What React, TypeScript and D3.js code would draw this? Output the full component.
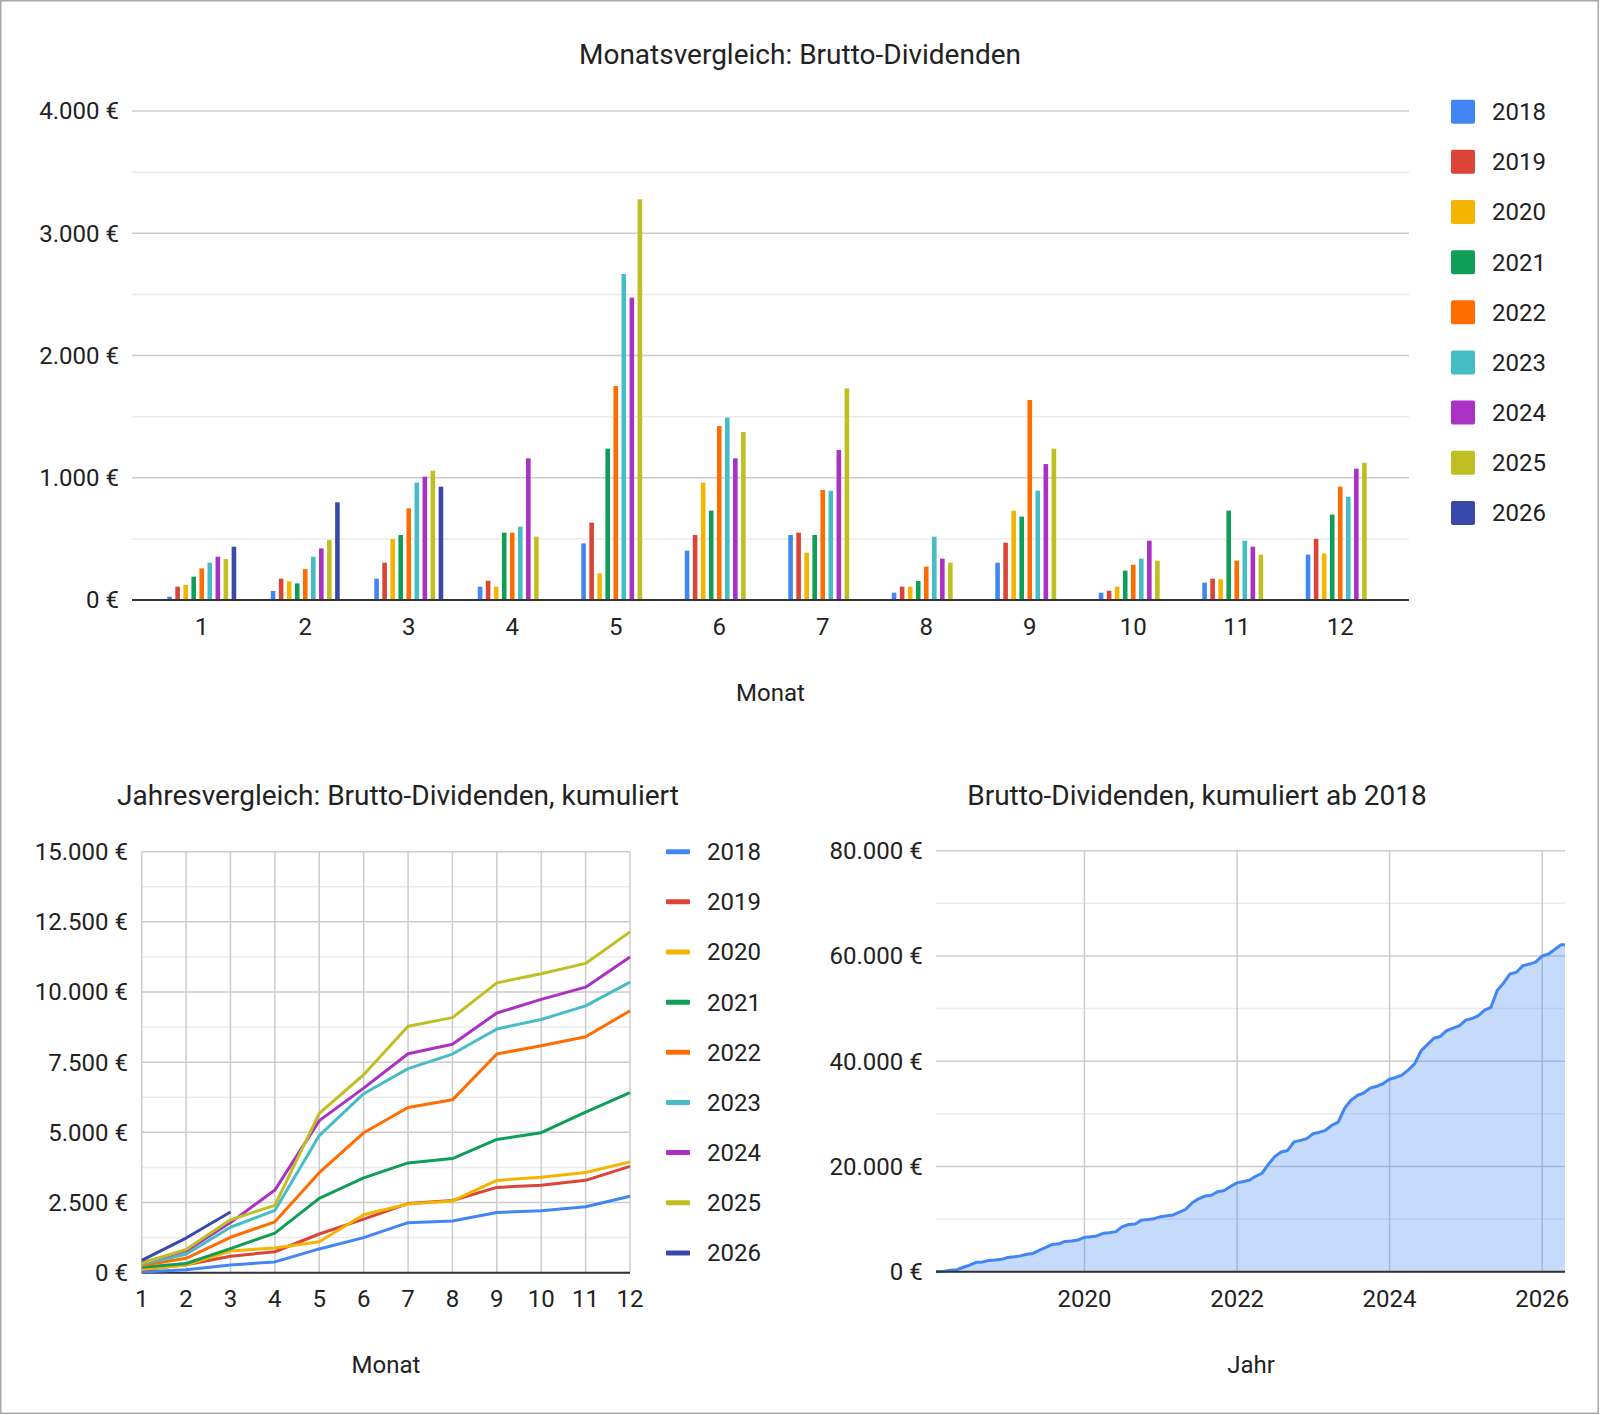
import React from "react";
import * as d3 from "d3";

// monthly gross dividends per year (EUR)
const MONTHS = [1, 2, 3, 4, 5, 6, 7, 8, 9, 10, 11, 12];
const YEARS = [2018, 2019, 2020, 2021, 2022, 2023, 2024, 2025, 2026];
const COLORS = [
  "#4285f4",
  "#db4437",
  "#f4b400",
  "#0f9d58",
  "#ff6d01",
  "#46bdc6",
  "#ab30c4",
  "#bfbf22",
  "#3949ab"
];

const D2018 = [27, 74, 174, 109, 463, 404, 532, 60, 305, 60, 142, 371];
const D2019 = [109, 174, 305, 158, 633, 532, 551, 109, 469, 76, 174, 500];
const D2020 = [123, 153, 499, 109, 218, 960, 387, 109, 731, 109, 170, 380];
const D2021 = [191, 136, 532, 551, 1238, 731, 532, 155, 682, 240, 731, 698];
const D2022 = [259, 253, 750, 551, 1750, 1423, 900, 273, 1636, 289, 322, 927];
const D2023 = [305, 354, 960, 600, 2667, 1492, 894, 518, 894, 338, 485, 845];
const D2024 = [354, 422, 1009, 1159, 2473, 1159, 1227, 338, 1112, 485, 436, 1074];
const D2025 = [335, 490, 1058, 518, 3278, 1374, 1731, 305, 1238, 322, 371, 1123];
const D2026 = [436, 799, 927];

const SERIES = [D2018, D2019, D2020, D2021, D2022, D2023, D2024, D2025, D2026];

const BAR_TICKS = [0, 1000, 2000, 3000, 4000];
const CUM_TICKS = [0, 2500, 5000, 7500, 10000, 12500, 15000];
const TOTAL_TICKS = [0, 20000, 40000, 60000, 80000];
const YEAR_TICKS = [2020, 2022, 2024, 2026];

const FIRST_PAYMENT = new Date(2018, 0, 20);
const AS_OF = new Date(2026, 3, 20);

const de = d3.formatLocale({
  decimal: ",",
  thousands: ".",
  grouping: [3],
  currency: ["", " €"]
});
const euro = de.format("$,.0f");

const FONT = "Roboto, 'Noto Sans', sans-serif";
const TXT = "#222";
const GRID = "#cccccc";
const MINOR = "#ebebeb";
const BASE = "#333";
const TITLE_SIZE = 28;

const Legend: React.FC<{ x: number; y: number; line?: boolean }> = ({ x, y, line }) => (
  <g>
    {YEARS.map((yr, i) => (
      <g key={yr} transform={`translate(${x}, ${y + i * 50.15})`}>
        {line ? (
          <rect x={0} y={-2.5} width={24} height={5} rx={1} fill={COLORS[i]} />
        ) : (
          <rect x={0} y={-12} width={24} height={24} rx={2} fill={COLORS[i]} />
        )}
        <text x={41} dy="0.35em" fontSize={24} fill={TXT}>
          {yr}
        </text>
      </g>
    ))}
  </g>
);

const MonthBars: React.FC = () => {
  const left = 132;
  const right = 1409;
  const x = d3.scaleBand<number>().domain(MONTHS).range([150, 1392]);
  const inner = d3
    .scaleBand<number>()
    .domain(YEARS)
    .range([-36.2, 36.2]);
  const y = d3.scaleLinear().domain([0, 4000]).range([600, 111]);
  const minor = d3.range(500, 4000, 1000);
  const bw = 4.6;

  return (
    <g>
      <text x={800} y={64} textAnchor="middle" fontSize={TITLE_SIZE} fill={TXT}>
        Monatsvergleich: Brutto-Dividenden
      </text>
      {minor.map(v => (
        <line key={v} x1={left} x2={right} y1={y(v)} y2={y(v)} stroke={MINOR} strokeWidth={1.5} />
      ))}
      {BAR_TICKS.map(v => (
        <g key={v}>
          {v > 0 && (
            <line x1={left} x2={right} y1={y(v)} y2={y(v)} stroke={GRID} strokeWidth={1.5} />
          )}
          <text x={119} y={y(v)} dy="0.35em" textAnchor="end" fontSize={24} fill={TXT}>
            {euro(v)}
          </text>
        </g>
      ))}
      {SERIES.map((vals, i) =>
        vals.map((v, m) => {
          const cx = x(MONTHS[m])! + x.bandwidth() / 2 + inner(YEARS[i])! + inner.bandwidth() / 2;
          return (
            <rect
              key={`${i}-${m}`}
              x={cx - bw / 2}
              y={y(v)}
              width={bw}
              height={y(0) - y(v)}
              fill={COLORS[i]}
            />
          );
        })
      )}
      <line x1={left} x2={right} y1={y(0)} y2={y(0)} stroke={BASE} strokeWidth={2} />
      {MONTHS.map(m => (
        <text
          key={m}
          x={x(m)! + x.bandwidth() / 2}
          y={627}
          dy="0.35em"
          textAnchor="middle"
          fontSize={24}
          fill={TXT}
        >
          {m}
        </text>
      ))}
      <text x={(left + right) / 2} y={693} dy="0.35em" textAnchor="middle" fontSize={24} fill={TXT}>
        Monat
      </text>
      <Legend x={1451} y={111.7} />
    </g>
  );
};

const YearCumulative: React.FC = () => {
  const x = d3.scaleLinear().domain([1, 12]).range([141.7, 630]);
  const y = d3.scaleLinear().domain([0, 15000]).range([1272.7, 851.7]);
  const minor = d3.range(1250, 15000, 2500);
  const lineGen = d3
    .line<number>()
    .x((_, i) => x(MONTHS[i]))
    .y(v => y(v));

  return (
    <g>
      <text x={398} y={805} textAnchor="middle" fontSize={TITLE_SIZE} fill={TXT}>
        Jahresvergleich: Brutto-Dividenden, kumuliert
      </text>
      {minor.map(v => (
        <line key={v} x1={x(1)} x2={x(12)} y1={y(v)} y2={y(v)} stroke={MINOR} strokeWidth={1.5} />
      ))}
      {CUM_TICKS.map(v => (
        <g key={v}>
          <line x1={x(1)} x2={x(12)} y1={y(v)} y2={y(v)} stroke={GRID} strokeWidth={1.5} />
          <text x={128} y={y(v)} dy="0.35em" textAnchor="end" fontSize={24} fill={TXT}>
            {euro(v)}
          </text>
        </g>
      ))}
      {MONTHS.map(m => (
        <g key={m}>
          <line x1={x(m)} x2={x(m)} y1={y(15000)} y2={y(0)} stroke={GRID} strokeWidth={1.5} />
          <text x={x(m)} y={1299} dy="0.35em" textAnchor="middle" fontSize={24} fill={TXT}>
            {m}
          </text>
        </g>
      ))}
      <line x1={x(1)} x2={x(12)} y1={y(0)} y2={y(0)} stroke={BASE} strokeWidth={2} />
      {SERIES.map((vals, i) => (
        <path
          key={YEARS[i]}
          d={lineGen(Array.from(d3.cumsum(vals)))!}
          fill="none"
          stroke={COLORS[i]}
          strokeWidth={3}
          strokeLinejoin="round"
        />
      ))}
      <text x={386} y={1365} dy="0.35em" textAnchor="middle" fontSize={24} fill={TXT}>
        Monat
      </text>
      <Legend x={666} y={851.7} line />
    </g>
  );
};

type Pt = { date: Date; value: number };

const TotalCumulative: React.FC = () => {
  const points: Pt[] = [{ date: FIRST_PAYMENT, value: 0 }];
  let run = 0;
  SERIES.forEach((vals, i) =>
    vals.forEach((v, m) => {
      run += v;
      points.push({ date: new Date(YEARS[i], m + 1, 0), value: run });
    })
  );
  points.push({ date: AS_OF, value: run });

  const x = d3
    .scaleTime()
    .domain(d3.extent(points, d => d.date) as [Date, Date])
    .range([936, 1565]);
  const y = d3.scaleLinear().domain([0, 80000]).range([1271.7, 850.7]);
  const minor = d3.range(10000, 80000, 20000);

  const area = d3
    .area<Pt>()
    .x(d => x(d.date))
    .y0(y(0))
    .y1(d => y(d.value));
  const lineGen = d3
    .line<Pt>()
    .x(d => x(d.date))
    .y(d => y(d.value));

  return (
    <g>
      <text x={1197} y={805} textAnchor="middle" fontSize={TITLE_SIZE} fill={TXT}>
        Brutto-Dividenden, kumuliert ab 2018
      </text>
      {minor.map(v => (
        <line key={v} x1={936} x2={1565} y1={y(v)} y2={y(v)} stroke={MINOR} strokeWidth={1.5} />
      ))}
      {TOTAL_TICKS.map(v => (
        <g key={v}>
          <line x1={936} x2={1565} y1={y(v)} y2={y(v)} stroke={GRID} strokeWidth={1.5} />
          <text x={922.7} y={y(v)} dy="0.35em" textAnchor="end" fontSize={24} fill={TXT}>
            {euro(v)}
          </text>
        </g>
      ))}
      {YEAR_TICKS.map(yr => {
        const px = x(new Date(yr, 0, 1));
        return (
          <g key={yr}>
            <line x1={px} x2={px} y1={y(80000)} y2={y(0)} stroke={GRID} strokeWidth={1.5} />
            <text x={px} y={1299} dy="0.35em" textAnchor="middle" fontSize={24} fill={TXT}>
              {yr}
            </text>
          </g>
        );
      })}
      <path d={area(points)!} fill="#4285f4" fillOpacity={0.3} />
      <path d={lineGen(points)!} fill="none" stroke="#4285f4" strokeWidth={3} strokeLinejoin="round" />
      <line x1={936} x2={1565} y1={y(0)} y2={y(0)} stroke={BASE} strokeWidth={2} />
      <text x={1251} y={1365} dy="0.35em" textAnchor="middle" fontSize={24} fill={TXT}>
        Jahr
      </text>
    </g>
  );
};

export default function App() {
  return (
    <div style={{ position: "absolute", left: 0, top: 0 }}>
      <svg width={1600} height={1415} fontFamily={FONT} style={{ display: "block", background: "#fff" }}>
        <rect x={0.75} y={0.75} width={1597.5} height={1412.5} fill="#fff" stroke="#a8a8a8" strokeWidth={1.5} />
        <MonthBars />
        <YearCumulative />
        <TotalCumulative />
      </svg>
    </div>
  );
}
